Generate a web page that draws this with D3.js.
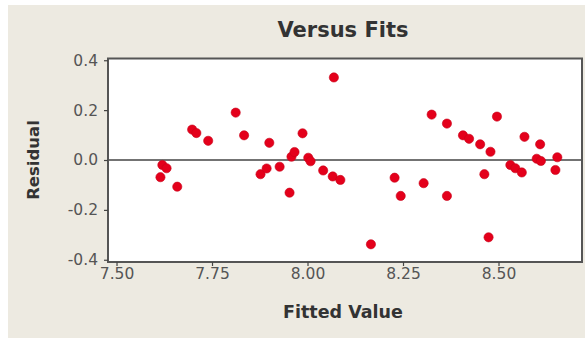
<!DOCTYPE html>
<html>
<head>
<meta charset="utf-8">
<script src="https://cdn.jsdelivr.net/npm/d3@7"></script>
<style>
  body { margin: 0; background: #fff; }
  svg { display: block; }
</style>
</head>
<body>
<div id="grafico"></div>
<script>
// valores ajustados (Fitted Value) y residuos
const ajustados = [
  7.620, 7.631, 7.615, 7.659, 7.698, 7.709, 7.740, 7.812, 7.834, 7.900,
  7.877, 7.893, 7.927, 7.953, 7.958, 7.966, 7.987, 8.002, 8.008, 8.041,
  8.066, 8.086, 8.069, 8.166, 8.228, 8.244, 8.304, 8.325, 8.365, 8.365,
  8.407, 8.423, 8.452, 8.479, 8.463, 8.496, 8.474, 8.531, 8.544, 8.561,
  8.568, 8.609, 8.600, 8.611, 8.654, 8.649
];
const residuos = [
  -0.020, -0.033, -0.069, -0.107, 0.122, 0.108, 0.077, 0.190, 0.099, 0.069,
  -0.057, -0.034, -0.027, -0.131, 0.013, 0.032, 0.107, 0.009, -0.005, -0.042,
  -0.066, -0.080, 0.331, -0.338, -0.071, -0.144, -0.093, 0.182, 0.146, -0.144,
  0.099, 0.085, 0.063, 0.033, -0.057, 0.174, -0.310, -0.020, -0.033, -0.050,
  0.093, 0.063, 0.005, -0.004, 0.011, -0.040
];
const ticksX = [7.50, 7.75, 8.00, 8.25, 8.50];
const ticksY = [-0.4, -0.2, 0.0, 0.2, 0.4];

const width = 585, height = 340;
const marco = { left: 108, right: 582, top: 58.5, bottom: 262 };

const svg = d3.select('#grafico')
  .append('svg')
  .attr('width', width)
  .attr('height', height);

// fondo beige del panel
svg.append('rect')
  .attr('x', 8).attr('y', 5)
  .attr('width', width - 8).attr('height', 333)
  .attr('fill', '#edeae1');

const x = d3.scaleLinear()
  .domain([7.4777, 8.7186])
  .range([marco.left, marco.right]);

const y = d3.scaleLinear()
  .domain([-0.409, 0.407])
  .range([marco.bottom, marco.top]);

// area del grafico
svg.append('rect')
  .attr('x', marco.left).attr('y', marco.top)
  .attr('width', marco.right - marco.left)
  .attr('height', marco.bottom - marco.top)
  .attr('fill', '#fff');

// linea de referencia en cero
svg.append('line')
  .attr('x1', marco.left).attr('x2', marco.right)
  .attr('y1', y(0)).attr('y2', y(0))
  .attr('stroke', '#444')
  .attr('stroke-width', 1.3);

const datos = ajustados.map((v, i) => ({ fit: v, res: residuos[i] }));

svg.append('g')
  .selectAll('circle')
  .data(datos)
  .join('circle')
  .attr('cx', d => x(d.fit))
  .attr('cy', d => y(d.res))
  .attr('r', 4.6)
  .attr('fill', '#e4001b')
  .attr('stroke', '#c80018')
  .attr('stroke-width', 0.6);

// marco
svg.append('rect')
  .attr('x', marco.left).attr('y', marco.top)
  .attr('width', marco.right - marco.left)
  .attr('height', marco.bottom - marco.top)
  .attr('fill', 'none')
  .attr('stroke', '#555')
  .attr('stroke-width', 2);

const fuente = 'Tahoma, "DejaVu Sans", Verdana, sans-serif';

const ejeX = svg.append('g')
  .attr('transform', `translate(0,${marco.bottom})`)
  .call(d3.axisBottom(x).tickValues(ticksX).tickFormat(d => d.toFixed(2)).tickSize(4).tickPadding(2));

const ejeY = svg.append('g')
  .attr('transform', `translate(${marco.left},0)`)
  .call(d3.axisLeft(y).tickValues(ticksY).tickFormat(d => d.toFixed(1)).tickSize(4).tickPadding(6));

[ejeX, ejeY].forEach(eje => {
  eje.select('.domain').remove();
  eje.selectAll('line').attr('stroke', '#444').attr('stroke-width', 1.2);
  eje.selectAll('text')
    .attr('fill', '#555')
    .style('font-family', fuente)
    .style('font-size', '15.5px');
});

svg.append('text')
  .attr('x', 343).attr('y', 37)
  .attr('text-anchor', 'middle')
  .attr('fill', '#333')
  .style('font-family', fuente)
  .style('font-weight', 'bold')
  .style('font-size', '21px')
  .text('Versus Fits');

svg.append('text')
  .attr('x', 343).attr('y', 318)
  .attr('text-anchor', 'middle')
  .attr('fill', '#333')
  .style('font-family', fuente)
  .style('font-weight', 'bold')
  .style('font-size', '17.5px')
  .text('Fitted Value');

svg.append('text')
  .attr('transform', 'translate(39,160) rotate(-90)')
  .attr('text-anchor', 'middle')
  .attr('fill', '#333')
  .style('font-family', fuente)
  .style('font-weight', 'bold')
  .style('font-size', '16.5px')
  .text('Residual');
</script>
</body>
</html>
